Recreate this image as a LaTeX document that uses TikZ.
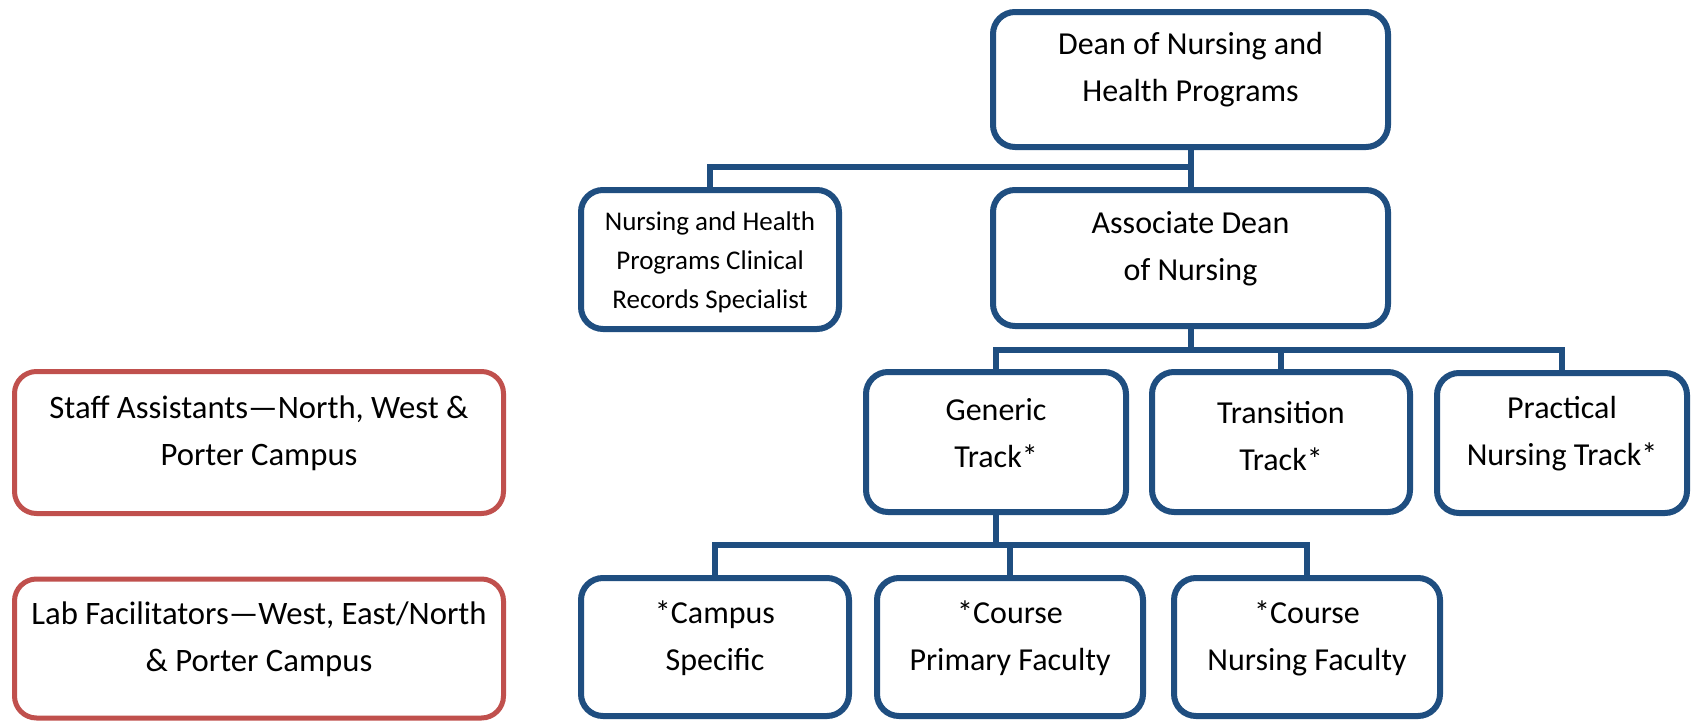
\documentclass[tikz,border=0pt]{standalone}
\usepackage{fontspec}
\setmainfont{Carlito}
\usepackage{tikz}
\definecolor{orgblue}{RGB}{31,78,128}
\definecolor{orgred}{RGB}{192,80,77}

\begin{document}
\begin{tikzpicture}[x=1pt,y=-1pt,
  box/.style={draw=orgblue,line width=6pt,rounded corners=22pt,fill=white,inner sep=0pt},
  redbox/.style={draw=orgred,line width=5pt,rounded corners=22pt,fill=white,inner sep=0pt,
    minimum width=489pt},
  txt/.style={align=center,yshift=#1,font=\fontsize{32}{47}\selectfont},
  txt/.default=9pt,
  link/.style={draw=orgblue,line width=6pt}]

\useasboundingbox (0,0) rectangle (1692,723);

\node [box,minimum width=395pt,minimum height=135pt,
  label={[txt=10pt]center:{Dean of Nursing and\\Health Programs}}] (dean) at (1190.5,79.5) {};
\node [box,minimum width=258pt,minimum height=139pt,
  label={[txt=-3pt,font=\fontsize{27}{39}\selectfont]center:{Nursing and Health\\Programs Clinical\\Records Specialist}}] (rec) at (710,259.5) {};
\node [box,minimum width=395pt,minimum height=136pt,
  label={[txt]center:{Associate Dean\\of Nursing}}] (assoc) at (1190.5,258) {};

\node [box,minimum width=260pt,minimum height=140pt,
  label={[txt]center:{Generic\\Track*}}] (generic) at (996,442) {};
\node [box,minimum width=258pt,minimum height=140pt,
  label={[txt=6pt]center:{Transition\\Track*}}] (trans) at (1281,442) {};
\node [box,minimum width=250pt,minimum height=140pt,
  label={[txt]center:{Practical\\Nursing Track*}}] (prac) at (1562,443) {};

\node [box,minimum width=268pt,minimum height=138pt,
  label={[txt]center:{*Campus\\Specific}}] (campus) at (715,647) {};
\node [box,minimum width=266pt,minimum height=138pt,
  label={[txt]center:{*Course\\Primary Faculty}}] (primary) at (1010,647) {};
\node [box,minimum width=266pt,minimum height=138pt,
  label={[txt]center:{*Course\\Nursing Faculty}}] (nfac) at (1307,647) {};

\node [redbox,minimum height=142pt,
  label={[txt,font=\fontsize{32.7}{47}\selectfont]center:{Staff Assistants—North, West \&\\Porter Campus}}] (staff) at (259,442.5) {};
\node [redbox,minimum height=139pt,
  label={[txt,font=\fontsize{32.7}{47}\selectfont]center:{Lab Facilitators—West, East/North\\\& Porter Campus}}] (lab) at (259,648.5) {};

% junctions
\coordinate (j1) at (1190.5,167);
\coordinate (j2) at (1190.5,350);
\coordinate (j3) at (996,545);

\draw [link] (dean.south) -- (j1) -| (rec.north);
\draw [link] (j1) -- (assoc.north);
\draw [link] (assoc.south) -- (j2) -| (generic.north);
\draw [link] (j2) -| (prac.north);
\draw [link] (trans.north) |- (j2);
\draw [link] (generic.south) -- (j3) -| (campus.north);
\draw [link] (j3) -| (nfac.north);
\draw [link] (primary.north) |- (j3);
\end{tikzpicture}
\end{document}
